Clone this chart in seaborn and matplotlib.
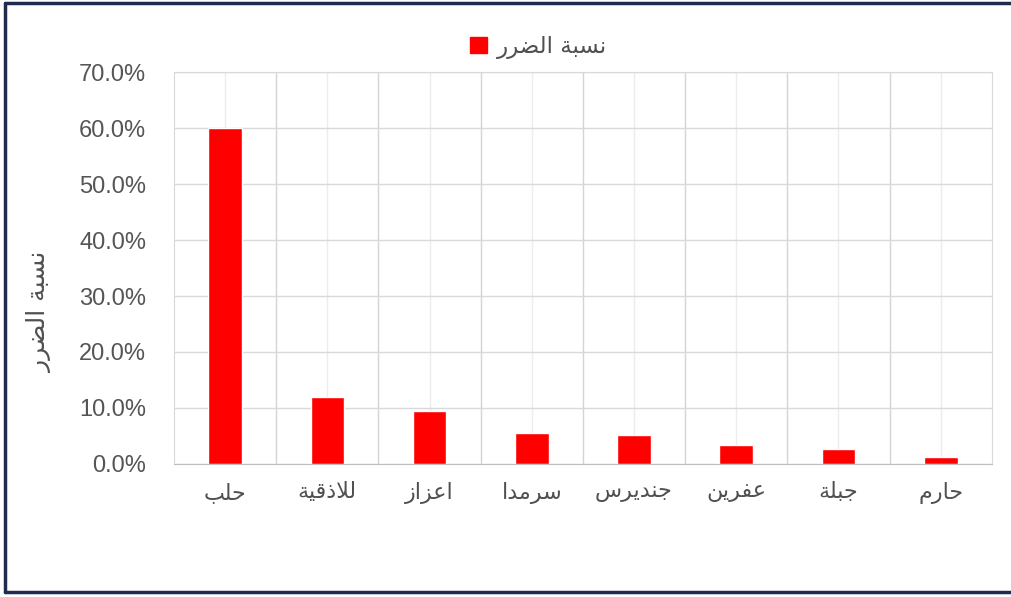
import matplotlib
matplotlib.use("Agg")
import matplotlib.pyplot as plt
import matplotlib.ticker as mticker
from matplotlib.lines import Line2D
import pandas as pd
import seaborn as sns

# data
cities = ["حلب", "للاذقية", "اعزاز", "سرمدا", "جنديرس", "عفرين", "جبلة", "حارم"]
damage = [0.600, 0.120, 0.095, 0.056, 0.052, 0.033, 0.027, 0.013]
series_name = "نسبة الضرر"
y_ticks = [0.0, 0.1, 0.2, 0.3, 0.4, 0.5, 0.6, 0.7]

# tiny arabic shaper: matplotlib has no shaping / bidi of its own
# letter -> (first presentation form, number of forms)
FORMS = {
    "ا": (0xFE8D, 2), "ب": (0xFE8F, 4), "ة": (0xFE93, 2), "ج": (0xFE9D, 4),
    "ح": (0xFEA1, 4), "د": (0xFEA9, 2), "ذ": (0xFEAB, 2), "ر": (0xFEAD, 2),
    "ز": (0xFEAF, 2), "س": (0xFEB1, 4), "ض": (0xFEBD, 4), "ع": (0xFEC9, 4),
    "ف": (0xFED1, 4), "ق": (0xFED5, 4), "ل": (0xFEDD, 4), "م": (0xFEE1, 4),
    "ن": (0xFEE5, 4), "ي": (0xFEF1, 4),
    "لا": (0xFEFB, 2),
}


def shape(text):
    tokens = []
    i = 0
    while i < len(text):
        if text[i] == "ل" and i + 1 < len(text) and text[i + 1] == "ا":
            tokens.append("لا")
            i += 2
        else:
            tokens.append(text[i])
            i += 1
    out = []
    for k, tok in enumerate(tokens):
        if tok not in FORMS:
            out.append(tok)
            continue
        base, n = FORMS[tok]
        prev = tokens[k - 1] if k > 0 else None
        nxt = tokens[k + 1] if k + 1 < len(tokens) else None
        join_prev = prev in FORMS and FORMS[prev][1] == 4
        join_next = n == 4 and nxt in FORMS
        if join_prev and join_next:
            idx = 3
        elif join_prev:
            idx = 1
        elif join_next:
            idx = 2
        else:
            idx = 0
        out.append(chr(base + idx))
    return "".join(out)[::-1]


sns.set_style("white")
plt.rcParams["font.family"] = ["Liberation Sans", "DejaVu Sans"]

df = pd.DataFrame({"city": cities, "damage": damage})

fig, ax = plt.subplots(figsize=(10.12, 5.97), dpi=100)
fig.subplots_adjust(left=0.172, right=0.980, top=0.879, bottom=0.223)

sns.barplot(data=df, x="city", y="damage", color="#ff0000", saturation=1,
            width=0.33, ax=ax, zorder=3)

ax.set_xlim(-0.5, len(cities) - 0.5)
ax.set_ylim(0, 0.7)
ax.set_yticks(y_ticks)
ax.yaxis.set_major_formatter(mticker.FuncFormatter(lambda v, _: f"{v * 100:.1f}%"))

ax.set_xticks(range(len(cities)))
ax.set_xticklabels([shape(c) for c in cities], family=["DejaVu Sans"],
                   fontsize=16, color="#505050")
ax.set_xticks([k + 0.5 for k in range(len(cities) - 1)], minor=True)

ax.tick_params(axis="y", length=0, pad=20, labelsize=17, labelcolor="#555555")
ax.tick_params(axis="x", which="both", length=0, pad=13)

ax.grid(axis="y", color="#d9d9d9", lw=1, zorder=0)
ax.grid(axis="x", which="minor", color="#d4d4d4", lw=1, zorder=0)
ax.grid(axis="x", which="major", color="#ececec", lw=1, zorder=0)

for side in ["left", "right", "top"]:
    ax.spines[side].set_color("#d9d9d9")
ax.spines["bottom"].set_color("#bfbfbf")

ax.set_xlabel("")
ax.set_ylabel("")

fig.text(40 / 1012, 1 - 312 / 597, shape(series_name), rotation=90,
         ha="center", va="center", fontsize=18, color="#505050",
         family=["DejaVu Sans"])

handles = [plt.Rectangle((0, 0), 1, 1, color="#ff0000")]
fig.legend(handles, [shape(series_name)], loc="center",
           bbox_to_anchor=(0.532, 1 - 47 / 597), frameon=False,
           prop={"family": "DejaVu Sans", "size": 16.5},
           labelcolor="#505050", handlelength=0.75, handleheight=0.75,
           handletextpad=0.4)

# outer frame of the original screenshot (left, top, bottom)
frame = dict(color="#1f2c4f", lw=2.5, transform=fig.transFigure)
fig.add_artist(Line2D([5 / 1012, 5 / 1012], [1 - 3 / 597, 1 - 592 / 597], **frame))
fig.add_artist(Line2D([5 / 1012, 1.0], [1 - 3 / 597, 1 - 3 / 597], **frame))
fig.add_artist(Line2D([5 / 1012, 1.0], [1 - 592 / 597, 1 - 592 / 597], **frame))

fig.savefig("out.png", dpi=100)
plt.close(fig)
